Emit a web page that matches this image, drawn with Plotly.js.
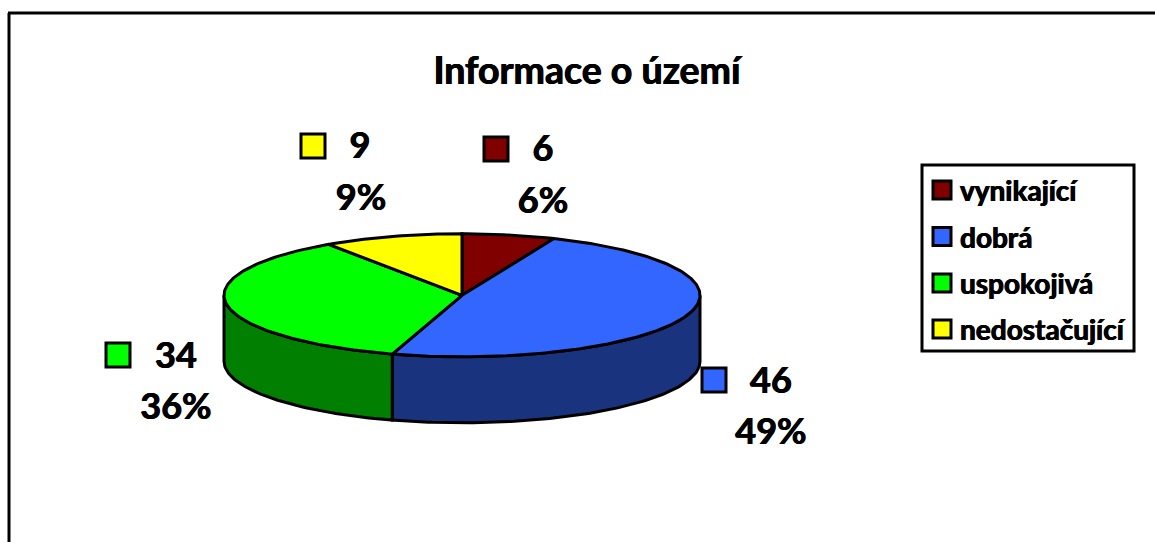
<!DOCTYPE html>
<html>
<head>
<meta charset="utf-8">
<script src="https://cdn.plot.ly/plotly-3.0.1.min.js"></script>
<style>html,body{margin:0;padding:0;background:#fff;overflow:hidden}#chart{width:1155px;height:542px}</style>
</head>
<body>
<div id="chart"></div>
<script>
const categories = ["vynikající", "dobrá", "uspokojivá", "nedostačující"];
const values = [6, 46, 34, 9];
const percentLabels = ["6%", "49%", "36%", "9%"];
const topColors = ["#800000", "#3366FF", "#00FF00", "#FFFF00"];
const sideColors = ["#400000", "#1A337F", "#007F00", "#7F7F00"];
const chartTitle = "Informace o území";

const FONT = "Lato, Carlito, Calibri, sans-serif";
const INK = "#000000";
const HEAVY = "0.5px 0 0 #000, -0.5px 0 0 #000";
const pie = {cx: 462, cy: 295.3, rx: 238, ry: 61.5, depth: 66};
const keyPos = [[496, 149], [714, 380], [118, 355], [313, 146]];
const valuePos = [[543, 152], [771, 384], [176, 359], [360, 149]];
const pctPos = [[543, 204], [771, 435], [176, 410], [361, 201]];
const legendRows = [190, 236.5, 283, 329];
const legendTextRows = [194, 240.5, 287, 333];

const total = values.reduce((a, b) => a + b, 0);
const pt = (deg, dy) => {
  const r = deg * Math.PI / 180;
  return [pie.cx + pie.rx * Math.sin(r), pie.cy - pie.ry * Math.cos(r) + (dy || 0)];
};
const arc = (a, b, dy) => {
  const out = [], n = Math.max(2, Math.ceil(Math.abs(b - a)));
  for (let i = 0; i <= n; i++) out.push(pt(a + (b - a) * i / n, dy));
  return out;
};
const poly = (pts, fill, name) => ({
  type: "scatter", mode: "lines", x: pts.map(p => p[0]), y: pts.map(p => p[1]),
  fill: "toself", fillcolor: fill, line: {color: INK, width: 3, shape: "linear"},
  name: name, hoverinfo: "name", showlegend: false
});

const sides = [], tops = [];
let cum = 0;
values.forEach((v, i) => {
  const a = cum / total * 360, b = (cum + v) / total * 360;
  cum += v;
  const s = Math.max(a, 90), e = Math.min(b, 270);
  if (e > s) {
    const front = arc(s, e, 0), back = arc(e, s, pie.depth);
    sides.push(poly(front.concat(back, [front[0]]), sideColors[i], categories[i]));
  }
  const c = [pie.cx, pie.cy];
  tops.push(poly([c].concat(arc(a, b, 0), [c]), topColors[i], categories[i]));
});

const squares = (pts, colors, size) => ({
  type: "scatter", mode: "markers",
  x: pts.map(p => p[0]), y: pts.map(p => p[1]),
  marker: {symbol: "square", size: size, color: colors, line: {color: INK, width: 3}},
  hoverinfo: "skip", showlegend: false
});
const texts = (pts, labels, size, pos) => ({
  type: "scatter", mode: "text",
  x: pts.map(p => p[0]), y: pts.map(p => p[1]), text: labels,
  textposition: pos, cliponaxis: false,
  textfont: {family: FONT, size: size, color: "#000", weight: 700, shadow: HEAVY},
  hoverinfo: "skip", showlegend: false
});

const legendX = 942, legendTextX = 960;
const traces = [].concat(
  sides, tops,
  [squares(keyPos, topColors, 24),
   texts(valuePos, values.map(String), 36, "middle center"),
   texts(pctPos, percentLabels, 36, "middle center"),
   squares(legendRows.map(y => [legendX, y]), topColors, 18),
   texts(legendTextRows.map(y => [legendTextX, y]), categories, 28, "middle right")]
);

const layout = {
  width: 1155, height: 542,
  margin: {l: 0, r: 0, t: 0, b: 0},
  paper_bgcolor: "#fff", plot_bgcolor: "#fff",
  xaxis: {range: [0, 1155], visible: false, fixedrange: true},
  yaxis: {range: [542, 0], visible: false, fixedrange: true},
  title: {text: chartTitle, x: 587 / 1155, xanchor: "center", y: 1 - 71 / 542, yanchor: "middle",
          font: {family: FONT, size: 37.5, color: "#000", weight: 700, shadow: HEAVY}},
  shapes: [
    {type: "line", xref: "x", yref: "y", x0: 9, x1: 9, y0: 13, y1: 542, line: {color: INK, width: 3}},
    {type: "line", xref: "x", yref: "y", x0: 8, x1: 1155, y0: 13, y1: 13, line: {color: INK, width: 3}},
    {type: "rect", xref: "x", yref: "y", x0: 922, x1: 1134, y0: 165, y1: 351, line: {color: INK, width: 3}, fillcolor: "rgba(0,0,0,0)"}
  ],
  showlegend: false
};
Plotly.newPlot("chart", traces, layout, {displayModeBar: false, responsive: false});
</script>
</body>
</html>
